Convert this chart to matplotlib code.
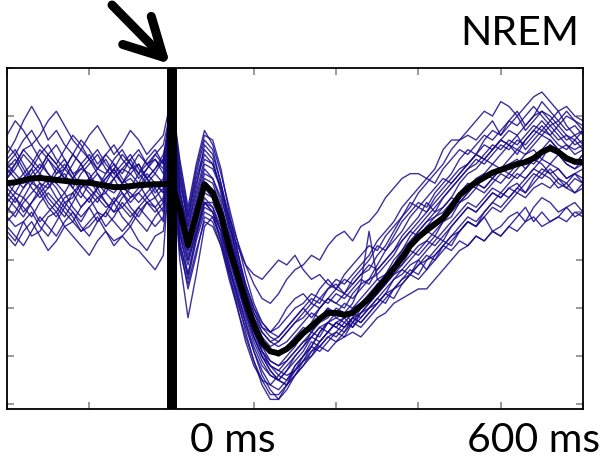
import numpy as np
import matplotlib.pyplot as plt

plt.rcParams["font.family"] = ["Lato", "DejaVu Sans"]

# time axis (ms), one sample every 20 ms
t_ms = np.arange(-400, 1001, 20)

# grand average (thick black line)
mean_trace = [
    1.60, 1.62, 1.66, 1.70, 1.71, 1.69, 1.67, 1.65, 1.63, 1.62,
    1.61, 1.58, 1.55, 1.52, 1.52, 1.54, 1.56, 1.57, 1.58, 1.58,
    1.60,
    1.05, 0.31, 0.95, 1.58, 1.40, 0.95, 0.25, -0.30, -0.85, -1.35,
    -1.72, -1.90, -1.94, -1.85, -1.70,
    -1.52, -1.38, -1.22, -1.10, -1.10, -1.14, -1.10, -0.95, -0.80, -0.60,
    -0.40, -0.18, 0.05, 0.30, 0.48, 0.62, 0.75, 0.88, 1.10, 1.35,
    1.50, 1.62, 1.72, 1.82, 1.88, 1.94, 2.00, 2.04, 2.12, 2.25,
    2.33, 2.25, 2.12, 2.05, 2.04,
]

# single trials (thin blue lines)
trials = [
    [2.2, 2.5, 2.9, 3.2, 2.9, 2.5, 2.7, 2.4, 2.2, 2.5, 2.3, 2.0, 2.2, 2.4, 2.1, 1.9, 2.2, 2.0, 1.8, 2.1,
     3.3, 1.8, 0.7, 1.5, 2.4, 2.2, 1.6, 0.9, 0.2, -0.5, -1.0, -1.3, -1.5, -1.4, -1.2, -1.0,
     -0.9, -0.7, -0.8, -0.6, -0.5, -0.7, -0.4, -0.2, 0.0, 0.3, 0.2, 0.5, 0.8, 1.0, 1.2, 1.1, 1.4,
     1.6, 1.8, 2.1, 2.3, 2.2, 2.5, 2.7, 2.6, 2.9, 3.1, 2.8, 3.0, 3.3, 3.1, 2.9, 2.7, 2.8, 2.6],
    [0.9, 0.7, 0.8, 0.5, 0.6, 0.9, 1.0, 0.7, 0.8, 0.6, 0.7, 0.9, 0.6, 0.4, 0.5, 0.3, 0.2, 0.0, -0.2, 0.1,
     2.6, 0.6, -0.3, 0.5, 1.2, 1.0, 0.6, -0.1, -0.7, -1.3, -1.9, -2.4, -2.7, -2.9, -2.6, -2.2,
     -2.0, -1.7, -1.8, -1.6, -1.5, -1.6, -1.3, -1.1, -0.9, -0.7, -0.5, -0.2, -0.1, 0.2, 0.1, 0.3, 0.5,
     0.4, 0.7, 0.9, 1.1, 1.0, 1.2, 1.4, 1.3, 1.5, 1.6, 1.4, 1.7, 1.9, 1.8, 1.6, 1.5, 1.7, 1.6],
    [1.9, 2.1, 1.8, 2.0, 2.3, 2.1, 1.8, 1.9, 2.2, 2.0, 1.7, 1.9, 2.1, 1.8, 1.6, 1.9, 2.0, 1.7, 1.9, 2.2,
     3.0, 1.4, 0.6, 1.3, 2.0, 1.9, 1.5, 0.9, 0.4, -0.1, -0.5, -0.8, -0.9, -0.7, -0.4, -0.2,
     -0.1, 0.1, 0.0, 0.3, 0.5, 0.6, 0.4, 0.7, 0.8, 1.0, 1.3, 1.5, 1.7, 1.8, 1.8, 1.7, 1.9,
     2.3, 2.5, 2.5, 2.6, 2.5, 2.7, 2.9, 2.6, 2.8, 3.0, 2.7, 2.9, 3.1, 3.0, 2.8, 3.0, 2.9, 2.7],
    [1.2, 1.4, 1.3, 1.6, 1.5, 1.2, 1.0, 1.3, 1.4, 1.1, 1.3, 1.5, 1.2, 1.0, 1.1, 1.3, 1.4, 1.2, 1.0, 1.2,
     2.2, 0.0, -1.2, -0.3, 0.7, 0.9, 0.4, -0.2, -0.8, -1.3, -1.8, -2.2, -2.4, -2.5, -2.3, -2.0,
     -1.8, -1.5, -1.6, -1.3, -1.4, -1.5, -1.2, -0.9, -0.8, -0.6, -0.3, -0.1, 0.1, 0.3, 0.5, 0.6, 0.5,
     0.8, 1.0, 1.2, 1.3, 1.5, 1.4, 1.6, 1.8, 1.7, 1.9, 2.1, 2.0, 2.2, 2.4, 2.3, 2.1, 2.0, 2.2],
    [1.7, 1.9, 2.2, 2.0, 1.8, 1.6, 1.9, 2.1, 1.8, 1.5, 1.7, 1.6, 1.4, 1.7, 1.9, 1.8, 1.6, 1.9, 2.1, 1.9,
     3.4, 2.0, 1.0, 1.9, 2.6, 2.5, 1.9, 1.0, 0.2, -0.6, -1.3, -1.8, -2.1, -2.2, -2.0, -1.8,
     -1.5, -1.3, -1.0, -0.8, -0.9, -1.0, -0.7, -0.5, -0.4, -0.1, 0.2, 0.4, 0.6, 0.9, 1.1, 1.0, 1.2,
     1.4, 1.6, 1.8, 2.0, 2.2, 2.1, 2.3, 2.5, 2.4, 2.2, 2.5, 2.7, 2.6, 2.8, 2.6, 2.4, 2.3, 2.4],
    [1.4, 1.2, 1.5, 1.7, 1.4, 1.6, 1.3, 1.1, 1.4, 1.6, 1.5, 1.3, 1.1, 1.2, 1.5, 1.4, 1.2, 1.4, 1.6, 1.4,
     2.8, 0.8, 0.1, 0.7, 1.3, 1.1, 0.6, -0.1, -0.8, -1.5, -2.1, -2.6, -2.9, -2.9, -2.7, -2.4,
     -2.1, -1.8, -1.5, -1.3, -1.2, -1.3, -1.1, -1.0, -0.8, -0.7, -0.5, -0.3, -0.1, 0.1, 0.3, 0.4, 0.6,
     0.8, 0.9, 1.2, 1.4, 1.6, 1.5, 1.7, 1.9, 1.8, 2.0, 2.2, 2.3, 2.1, 2.4, 2.2, 2.0, 1.9, 2.1],
    [1.0, 1.3, 1.1, 0.9, 1.2, 1.4, 1.2, 1.0, 0.8, 1.1, 1.3, 1.0, 0.9, 1.2, 1.4, 1.1, 0.9, 1.2, 1.3, 1.0,
     2.5, 0.5, -0.1, 0.6, 1.2, 1.2, 0.8, 0.1, -0.5, -1.0, -1.5, -1.9, -2.2, -2.3, -2.4, -2.3,
     -2.1, -2.0, -1.8, -1.9, -1.7, -1.6, -1.5, -1.6, -1.4, -1.2, -1.1, -0.9, -0.8, -0.7, -0.6, -0.6, -0.4,
     -0.2, 0.0, 0.2, 0.3, 0.5, 0.4, 0.6, 0.7, 0.9, 1.0, 0.8, 1.1, 1.3, 1.2, 1.0, 1.1, 1.2, 1.0],
    [2.0, 1.8, 1.6, 1.9, 2.2, 2.4, 2.1, 1.9, 1.7, 2.0, 2.2, 1.9, 1.8, 2.0, 1.7, 1.5, 1.8, 2.0, 2.1, 1.8,
     3.1, 1.5, 0.5, 1.2, 1.9, 1.7, 1.2, 0.5, -0.1, -0.7, -1.2, -1.6, -1.8, -1.7, -1.5, -1.3,
     -1.1, -0.9, -1.0, -0.8, -0.6, -0.7, -0.5, -0.3, -0.2, 0.1, 0.3, 0.6, 0.9, 1.1, 1.4, 1.6, 1.8,
     2.0, 2.3, 2.5, 2.7, 2.9, 3.1, 3.0, 3.3, 3.2, 3.0, 3.2, 3.4, 3.5, 3.3, 3.1, 3.2, 3.0, 2.9],
    [1.6, 1.4, 1.7, 1.9, 1.6, 1.5, 1.7, 1.8, 1.5, 1.3, 1.6, 1.8, 1.5, 1.4, 1.6, 1.7, 1.5, 1.8, 1.6, 1.4,
     2.9, 1.0, 0.3, 0.9, 1.5, 1.4, 0.9, 0.2, -0.3, -0.9, -1.4, -1.8, -1.9, -2.0, -1.8, -1.6,
     -1.4, -1.5, -1.2, -1.0, -1.2, -1.1, -1.3, -1.0, -0.8, -0.5, -0.4, -0.2, 0.1, 0.3, 0.5, 0.7, 0.8,
     0.9, 1.1, 1.4, 1.5, 1.7, 1.8, 1.7, 1.9, 2.0, 2.1, 1.9, 2.1, 2.3, 2.5, 2.3, 2.1, 2.0, 2.2],
    [0.6, 0.4, 0.8, 1.0, 0.7, 0.5, 0.8, 1.1, 0.9, 0.6, 0.8, 1.0, 0.7, 0.9, 1.2, 1.0, 0.8, 0.6, 0.9, 1.1,
     2.4, 0.4, -0.4, 0.4, 1.0, 0.9, 0.5, -0.2, -0.7, -1.2, -1.7, -2.1, -2.4, -2.5, -2.3, -2.1,
     -1.9, -1.6, -1.7, -1.5, -1.3, -1.4, -1.2, -1.3, -1.1, -0.9, -0.7, -0.4, -0.3, -0.1, 0.0, -0.2, 0.1,
     0.3, 0.5, 0.6, 0.8, 0.7, 0.9, 0.6, 0.5, 0.7, 0.9, 1.1, 0.8, 1.0, 0.8, 0.9, 1.1, 0.9, 1.0],
    [2.4, 2.2, 2.5, 2.7, 2.4, 2.2, 2.0, 2.3, 2.6, 2.4, 2.1, 1.9, 2.2, 2.0, 1.8, 2.1, 2.3, 2.0, 2.2, 2.4,
     3.2, 1.6, 0.8, 1.6, 2.2, 2.0, 1.5, 0.8, 0.1, -0.5, -1.0, -1.4, -1.6, -1.7, -1.5, -1.3,
     -1.2, -1.0, -0.8, -0.9, -0.7, -0.8, -0.6, -0.4, -0.5, -0.2, 0.0, 0.2, 0.5, 0.7, 0.9, 1.2, 1.0,
     1.3, 1.5, 1.7, 1.9, 2.0, 2.2, 2.4, 2.3, 2.5, 2.4, 2.6, 2.8, 2.7, 2.9, 2.7, 2.5, 2.6, 2.4],
    [1.3, 1.1, 0.9, 1.2, 1.4, 1.1, 0.9, 1.2, 1.0, 0.8, 1.1, 1.3, 1.4, 1.2, 0.9, 0.7, 1.0, 1.2, 1.1, 0.8,
     2.3, 0.3, -0.3, 0.5, 1.1, 1.0, 0.6, 0.0, -0.6, -1.1, -1.6, -2.0, -2.2, -2.3, -2.1, -1.9,
     -1.7, -1.5, -1.3, -1.2, -1.0, -1.1, -0.9, -0.5, 0.6, -0.4, -0.3, -0.1, 0.2, 0.4, 0.6, 0.8, 0.9,
     1.1, 1.3, 1.2, 1.4, 1.6, 1.5, 1.7, 1.6, 1.8, 1.7, 1.9, 2.1, 2.0, 1.8, 1.9, 1.7, 1.8, 1.6],
    [1.8, 2.0, 2.3, 2.1, 1.9, 2.2, 2.4, 2.1, 1.8, 1.9, 2.1, 2.3, 2.0, 1.8, 2.0, 2.2, 1.9, 1.7, 1.9, 2.1,
     3.0, 1.3, 0.5, 1.1, 1.8, 1.7, 1.3, 0.7, 0.3, -0.1, -0.3, -0.4, -0.2, 0.0, -0.1, 0.1,
     -0.2, -0.4, -0.3, -0.5, -0.6, -0.4, -0.5, -0.3, -0.1, -0.2, 0.0, 0.2, 0.4, 0.6, 0.5, 0.7, 0.9,
     1.0, 1.2, 1.4, 1.6, 1.5, 1.8, 2.0, 1.9, 2.1, 2.3, 2.2, 2.4, 2.6, 2.5, 2.3, 2.4, 2.2, 2.3],
    [1.1, 0.9, 1.2, 1.4, 1.6, 1.3, 1.1, 0.9, 1.2, 1.5, 1.7, 1.4, 1.2, 1.0, 1.3, 1.5, 1.6, 1.3, 1.1, 1.3,
     2.7, 0.7, 0.0, 0.6, 1.2, 1.0, 0.4, -0.3, -1.0, -1.7, -2.2, -2.5, -2.6, -2.4, -2.2, -2.0,
     -1.8, -1.6, -1.4, -1.5, -1.3, -1.2, -1.4, -1.1, -1.0, -0.8, -0.6, -0.4, -0.2, -0.3, 0.0, 0.2, 0.4,
     0.6, 0.8, 1.0, 1.2, 1.1, 1.3, 1.5, 1.4, 1.6, 1.8, 1.7, 1.9, 2.1, 2.0, 2.2, 2.0, 1.9, 2.0],
    [1.9, 1.7, 1.5, 1.8, 2.0, 1.8, 1.6, 1.4, 1.7, 1.9, 1.8, 1.5, 1.7, 1.9, 1.6, 1.8, 2.0, 1.7, 1.5, 1.7,
     3.1, 1.2, 0.4, 1.0, 1.7, 1.6, 1.1, 0.5, -0.1, -0.7, -1.2, -1.5, -1.7, -1.8, -1.7, -1.5,
     -1.3, -1.1, -1.2, -1.0, -1.1, -0.9, -1.0, -0.8, -0.6, -0.4, -0.5, -0.2, 0.0, 0.3, 0.6, 0.8, 1.0,
     1.1, 1.3, 1.6, 1.8, 1.9, 2.1, 2.0, 2.2, 2.4, 2.3, 2.5, 2.7, 2.9, 2.7, 2.5, 2.6, 2.4, 2.5],
    [1.5, 1.3, 1.0, 1.2, 1.5, 1.7, 1.5, 1.2, 1.3, 1.6, 1.4, 1.2, 1.5, 1.7, 1.4, 1.2, 1.4, 1.6, 1.3, 1.5,
     2.6, 0.9, 0.2, 0.8, 1.4, 1.3, 0.8, 0.2, -0.4, -1.0, -1.5, -1.9, -2.1, -2.2, -2.1, -1.9,
     -1.7, -1.6, -1.4, -1.3, -1.4, -1.2, -1.1, -1.2, -1.0, -0.9, -0.7, -0.6, -0.4, -0.3, -0.1, 0.0, 0.1,
     0.3, 0.2, 0.4, 0.3, 0.5, 0.4, 0.6, 0.5, 0.7, 0.6, 0.8, 0.9, 0.7, 0.8, 0.9, 0.8, 1.0, 0.9],
    [2.1, 2.3, 2.0, 1.7, 1.9, 2.2, 2.0, 1.7, 1.5, 1.8, 2.0, 2.2, 1.9, 1.7, 1.9, 2.1, 1.8, 1.6, 1.8, 1.6,
     3.3, 1.7, 0.9, 1.7, 2.3, 2.1, 1.4, 0.6, -0.1, -0.8, -1.4, -1.9, -2.2, -2.4, -2.5, -2.3,
     -2.0, -1.8, -1.5, -1.3, -1.1, -1.2, -1.0, -0.9, -0.7, -0.5, -0.3, 0.0, 0.2, 0.5, 0.7, 0.9, 1.1,
     1.3, 1.5, 1.7, 1.9, 2.1, 2.0, 2.2, 2.4, 2.3, 2.5, 2.4, 2.6, 2.8, 2.6, 2.4, 2.3, 2.5, 2.3],
    [0.8, 1.0, 1.3, 1.1, 0.8, 1.0, 1.2, 1.4, 1.1, 0.9, 1.1, 0.8, 1.0, 1.3, 1.1, 0.9, 1.1, 1.3, 1.5, 1.2,
     2.4, 0.6, 0.0, 0.6, 1.2, 1.1, 0.7, 0.1, -0.5, -1.1, -1.6, -2.0, -2.3, -2.5, -2.6, -2.4,
     -2.2, -1.9, -1.7, -1.5, -1.3, -1.4, -1.2, -1.1, -0.9, -0.7, -0.5, -0.3, -0.2, 0.0, 0.2, 0.4, 0.3,
     0.5, 0.7, 0.9, 1.1, 1.0, 1.2, 1.4, 1.3, 1.5, 1.4, 1.6, 1.8, 1.7, 1.9, 1.7, 1.6, 1.8, 1.7],
    [1.7, 2.0, 2.3, 2.4, 2.1, 1.8, 1.6, 1.9, 2.2, 2.0, 1.7, 1.5, 1.8, 2.1, 2.3, 2.0, 1.7, 1.9, 2.2, 2.0,
     3.2, 1.4, 0.7, 1.4, 2.1, 2.0, 1.5, 0.7, 0.0, -0.6, -1.1, -1.5, -1.7, -1.6, -1.4, -1.2,
     -1.0, -1.2, -1.0, -0.8, -0.9, -0.7, -0.8, -0.6, -0.4, -0.3, -0.1, 0.1, 0.4, 0.6, 0.8, 1.0, 1.3,
     1.5, 1.7, 1.9, 2.0, 2.2, 2.4, 2.3, 2.5, 2.7, 2.6, 2.8, 3.0, 3.1, 2.9, 3.1, 2.8, 2.6, 2.7],
    [0.7, 0.5, 0.3, 0.6, 0.9, 0.7, 0.5, 0.8, 1.0, 0.7, 0.5, 0.8, 1.0, 0.8, 0.6, 0.8, 1.1, 0.9, 0.7, 0.9,
     2.2, 0.2, -0.5, 0.2, 0.8, 0.7, 0.3, -0.4, -1.0, -1.6, -2.1, -2.5, -2.8, -2.8, -2.6, -2.3,
     -2.1, -1.9, -1.8, -1.6, -1.7, -1.5, -1.3, -1.4, -1.2, -1.0, -0.8, -0.6, -0.5, -0.3, -0.4, -0.2, 0.0,
     0.2, 0.4, 0.6, 0.8, 0.7, 0.9, 1.1, 1.0, 1.2, 1.4, 1.3, 1.5, 1.6, 1.5, 1.7, 1.5, 1.4, 1.6],
    [2.6, 2.9, 2.7, 2.4, 2.6, 2.9, 3.1, 2.8, 2.5, 2.3, 2.6, 2.8, 2.5, 2.2, 2.4, 2.7, 2.5, 2.2, 2.4, 2.6,
     3.4, 2.1, 1.1, 2.0, 2.7, 2.4, 1.8, 1.1, 0.4, -0.3, -0.9, -1.3, -1.5, -1.6, -1.4, -1.2,
     -1.0, -0.8, -0.9, -0.6, -0.4, -0.5, -0.3, -0.1, 0.1, 0.4, 0.6, 0.8, 1.1, 1.3, 1.5, 1.7, 1.6,
     1.9, 2.1, 2.3, 2.2, 2.4, 2.6, 2.5, 2.7, 2.9, 2.8, 3.0, 3.2, 3.0, 2.8, 2.9, 3.1, 2.9, 2.8],
    [0.5, 0.3, 0.6, 0.8, 0.5, 0.2, 0.4, 0.7, 0.5, 0.3, 0.1, 0.4, 0.6, 0.3, 0.5, 0.7, 0.4, 0.2, 0.5, 0.6,
     2.0, 0.3, -0.6, 0.1, 0.9, 0.8, 0.3, -0.3, -0.9, -1.4, -1.9, -2.3, -2.6, -2.7, -2.5, -2.2,
     -2.0, -1.8, -1.9, -1.7, -1.5, -1.3, -1.4, -1.2, -1.0, -0.8, -0.9, -0.6, -0.4, -0.2, -0.3, 0.0, 0.2,
     0.4, 0.3, 0.6, 0.8, 0.7, 1.0, 1.2, 1.1, 1.3, 1.5, 1.4, 1.6, 1.8, 1.7, 1.5, 1.6, 1.4, 1.5],
    [1.3, 1.6, 1.8, 1.5, 1.3, 1.5, 1.8, 2.0, 1.7, 1.4, 1.2, 1.5, 1.7, 1.9, 1.6, 1.3, 1.5, 1.7, 1.4, 1.6,
     2.9, 0.9, 0.2, 0.8, 1.5, 1.3, 0.8, 0.1, -0.5, -1.1, -1.6, -2.0, -2.3, -2.5, -2.6, -2.4,
     -2.2, -2.0, -1.7, -1.5, -1.6, -1.4, -1.2, -1.3, -1.1, -0.9, -0.7, -0.8, -0.5, -0.3, -0.1, 0.1, 0.0,
     0.3, 0.5, 0.7, 0.9, 0.8, 1.0, 1.2, 1.4, 1.3, 1.5, 1.7, 1.9, 1.8, 2.0, 1.9, 1.7, 1.8, 1.9],
    [2.0, 2.2, 1.9, 1.6, 1.8, 2.1, 1.9, 1.7, 2.0, 2.3, 2.1, 1.8, 1.6, 1.9, 2.2, 2.0, 1.8, 2.1, 2.3, 2.0,
     3.4, 1.9, 0.9, 1.8, 2.5, 2.3, 1.6, 0.8, 0.0, -0.6, -1.1, -1.4, -1.5, -1.3, -1.0, -0.8,
     -0.7, -0.9, -0.6, -0.4, -0.6, -0.3, -0.1, 0.1, 0.3, 0.2, 0.5, 0.7, 0.9, 1.2, 1.1, 1.3, 1.5,
     1.7, 1.6, 1.8, 2.0, 2.2, 2.1, 2.3, 2.5, 2.4, 2.6, 2.3, 2.5, 2.7, 2.6, 2.8, 2.6, 2.5, 2.7],
]

fig = plt.figure(figsize=(6.07, 4.61), dpi=100)
ax = fig.add_axes([0.0115, 0.1128, 0.949, 0.7397])

for tr in trials:
    ax.plot(t_ms, tr, color='#1a0d8c', linewidth=1.0, alpha=0.85,
            solid_joinstyle='round')

ax.plot(t_ms, mean_trace, color='black', linewidth=4.3, solid_capstyle='round')

# stimulus onset marker
ax.axvline(0, color='black', linewidth=7.2)

ax.set_xlim(-400, 1000)
ax.set_ylim(-3.1, 4.0)
ax.set_xticks(np.arange(-400, 1001, 200))
ax.set_yticks(np.arange(-3, 5, 1))
ax.tick_params(direction='in', length=5, width=1.2, color='#888888',
               top=True, right=True, labelbottom=False, labelleft=False)
for s in ax.spines.values():
    s.set_linewidth(1.3)

# arrow pointing at the stimulus
ax.annotate('', xy=(170, 397), xycoords='figure pixels',
            xytext=(112, 456), textcoords='figure pixels',
            arrowprops=dict(arrowstyle='->, head_length=0.75, head_width=0.4',
                            lw=6.5, color='black', mutation_scale=36,
                            shrinkA=0, shrinkB=0),
            annotation_clip=False)

fig.text(0.955, 0.902, 'NREM', fontsize=29.5, ha='right', va='baseline')
fig.text(0.313, 0.02, '0 ms', fontsize=29.5, ha='left', va='baseline')
fig.text(0.988, 0.02, '600 ms', fontsize=29.5, ha='right', va='baseline')

plt.savefig('out.png', dpi=100)
